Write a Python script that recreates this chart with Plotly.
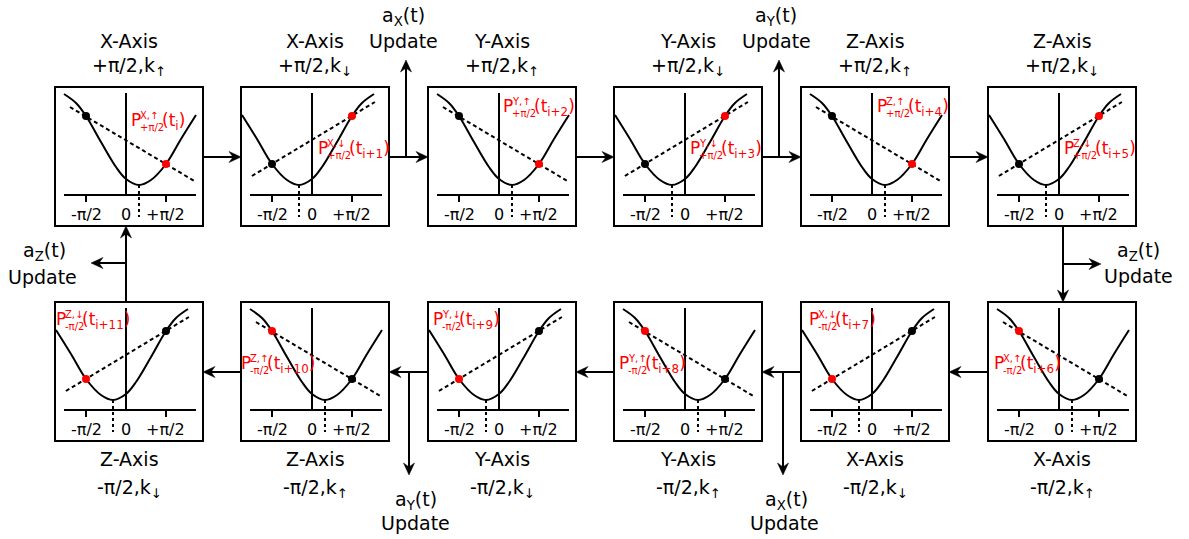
import math
import plotly.graph_objects as go

W, H = 1189, 539
FONT = "DejaVu Sans"

# ---------------- data ----------------
# curve shape with minimum right of 0 (k-up) and left of 0 (k-down), x in radians
curve_x_up = [-2.435, -1.963, -1.571, -0.982, -0.393, 0.0, 0.51, 0.982, 1.571, 2.16, 2.749]
curve_y_up = [101, 92, 79, 53, 28, 16, 10, 15, 31, 56, 80]
curve_x_down = [-2.749, -2.16, -1.571, -0.982, -0.51, 0.0, 0.393, 0.982, 1.571, 1.963, 2.435]
curve_y_down = [80, 56, 31, 15, 10, 16, 28, 53, 79, 92, 101]
dash_x_up = [-2.2, 2.75]
dash_y_up = [88, 13]
dash_x_down = [-2.36, 2.47]
dash_y_down = [19, 93]
min_x_up = 0.51
min_x_down = -0.51
min_y = 10
point_x = [-1.5708, 1.5708]
point_y_up = [79, 31]
point_y_down = [31, 79]
tick_x = [-1.5708, 0.0, 1.5708]
tick_text = ["-π/2", "0", "+π/2"]
axis_x = [-2.435, 2.749]
axis_top = 102

# panels: (axis, angle, k-arrow, time index)
top_panels = [("X", "+π/2", "↑", "i"), ("X", "+π/2", "↓", "i+1"),
              ("Y", "+π/2", "↑", "i+2"), ("Y", "+π/2", "↓", "i+3"),
              ("Z", "+π/2", "↑", "i+4"), ("Z", "+π/2", "↓", "i+5")]
bottom_panels = [("Z", "-π/2", "↓", "i+11"), ("Z", "-π/2", "↑", "i+10"),
                 ("Y", "-π/2", "↓", "i+9"), ("Y", "-π/2", "↑", "i+8"),
                 ("X", "-π/2", "↓", "i+7"), ("X", "-π/2", "↑", "i+6")]

# ---------------- layout geometry (pixels) ----------------
panel_left = [55, 241, 428, 614, 801, 988]
panel_w = 148
panel_h = 139
top_row_y = 87
bottom_row_y = 302
x_range = [-2.788, 3.024]
y_range = [-31, 108]
top_label_off = [(75, 33), (76, 61), (74, 19), (75, 61), (75, 19), (75, 61)]
bottom_label_off = [(0, 17), (-1, 61), (4, 17), (4, 61), (7, 17), (5, 61)]


def px(x):
    return x / W


def py(y):
    return 1 - y / H


fig = go.Figure()
layout = dict(width=W, height=H, margin=dict(l=0, r=0, t=0, b=0), autosize=False,
              paper_bgcolor="white", plot_bgcolor="rgba(0,0,0,0)", showlegend=False,
              hovermode=False)
shapes = []
annotations = []


def add_text(x, y, text, size, color="black", xanchor="center"):
    annotations.append(dict(x=px(x), y=py(y), xref="paper", yref="paper", text=text,
                            showarrow=False, xanchor=xanchor, yanchor="middle",
                            font=dict(family=FONT, size=size, color=color)))


def add_arrow(x0, y0, x1, y1, head_len=12, head_half=5.5, notch=8):
    dxp, dyp = x1 - x0, y1 - y0
    d = math.hypot(dxp, dyp)
    ux, uy = dxp / d, dyp / d
    nx, ny = -uy, ux
    shapes.append(dict(type="line", xref="paper", yref="paper",
                       x0=px(x0), y0=py(y0), x1=px(x1 - ux * notch), y1=py(y1 - uy * notch),
                       line=dict(color="black", width=2)))
    bx, by_ = x1 - ux * head_len, y1 - uy * head_len
    pts = [(x1, y1),
           (bx + nx * head_half, by_ + ny * head_half),
           (x1 - ux * notch, y1 - uy * notch),
           (bx - nx * head_half, by_ - ny * head_half)]
    path = "M " + " L ".join(f"{px(a):.6f},{py(b):.6f}" for a, b in pts) + " Z"
    shapes.append(dict(type="path", xref="paper", yref="paper", path=path,
                       fillcolor="black", line=dict(color="black", width=0.5)))


def add_panel(n, left, top, info, label_off, red_right, row_top):
    axis, angle, kar, tidx = info
    xa = "x" if n == 1 else f"x{n}"
    ya = "y" if n == 1 else f"y{n}"
    xk = "xaxis" if n == 1 else f"xaxis{n}"
    yk = "yaxis" if n == 1 else f"yaxis{n}"
    layout[xk] = dict(domain=[px(left), px(left + panel_w)], range=x_range, visible=False,
                      anchor=ya, fixedrange=True)
    layout[yk] = dict(domain=[py(top + panel_h), py(top)], range=y_range, visible=False,
                      anchor=xa, fixedrange=True)
    up = kar == "↑"
    cx, cy = (curve_x_up, curve_y_up) if up else (curve_x_down, curve_y_down)
    dx, dy = (dash_x_up, dash_y_up) if up else (dash_x_down, dash_y_down)
    mx = min_x_up if up else min_x_down
    pyv = point_y_up if up else point_y_down
    # box
    shapes.append(dict(type="rect", xref=f"{xa} domain", yref=f"{ya} domain", x0=0, x1=1, y0=0, y1=1,
                       line=dict(color="black", width=2)))
    # axes
    shapes.append(dict(type="line", xref=xa, yref=ya, x0=axis_x[0], x1=axis_x[1], y0=0, y1=0,
                       line=dict(color="black", width=2)))
    shapes.append(dict(type="line", xref=xa, yref=ya, x0=0, x1=0, y0=0, y1=axis_top,
                       line=dict(color="black", width=2)))
    for tx in (tick_x[0], tick_x[2]):
        shapes.append(dict(type="line", xref=xa, yref=ya, x0=tx, x1=tx, y0=0, y1=-7,
                           line=dict(color="black", width=2)))
    shapes.append(dict(type="line", xref=xa, yref=ya, x0=mx, x1=mx, y0=min_y, y1=-22,
                       line=dict(color="black", width=2, dash="3px,3px")))
    for tx, tt in zip(tick_x, tick_text):
        annotations.append(dict(x=tx, y=-19, xref=xa, yref=ya, text=tt, showarrow=False,
                                xanchor="center", yanchor="middle",
                                font=dict(family=FONT, size=16, color="black")))
    fig.add_trace(go.Scatter(x=dx, y=dy, mode="lines", xaxis=xa, yaxis=ya,
                             line=dict(color="black", width=2, dash="4px,3px")))
    fig.add_trace(go.Scatter(x=cx, y=cy, mode="lines", xaxis=xa, yaxis=ya,
                             line=dict(color="black", width=2, shape="spline", smoothing=1.0)))
    colors = ["black", "red"] if red_right else ["red", "black"]
    fig.add_trace(go.Scatter(x=point_x, y=pyv, mode="markers", xaxis=xa, yaxis=ya,
                             marker=dict(color=colors, size=8, line=dict(width=0))))
    # titles
    cxp = left + panel_w / 2
    if row_top:
        add_text(cxp, 41, f"{axis}-Axis", 19)
        add_text(cxp, 66, f"{angle},k<sub>{kar}</sub>", 19)
    else:
        add_text(cxp, 459, f"{axis}-Axis", 19)
        add_text(cxp, 488, f"{angle},k<sub>{kar}</sub>", 19)
    # red label
    lx = left + label_off[0]
    ly = top + label_off[1]
    add_text(lx - 1, ly, "P", 17, "red", "left")
    add_text(lx + 8, ly - 5, f"{axis},{kar}", 10, "red", "left")
    add_text(lx + 8, ly + 7, angle, 10, "red", "left")
    sub_w = 31 if row_top else 26
    add_text(lx + sub_w - 1, ly + 1, f"(t<sub>{tidx}</sub>)", 17, "red", "left")


n = 1
for i, info in enumerate(top_panels):
    add_panel(n, panel_left[i], top_row_y, info, top_label_off[i], True, True)
    n += 1
for i, info in enumerate(bottom_panels):
    add_panel(n, panel_left[i], bottom_row_y, info, bottom_label_off[i], False, False)
    n += 1

# flow arrows
ty = top_row_y + panel_h / 2 + 0.5
by = bottom_row_y + panel_h / 2 + 0.5
for i in range(5):
    add_arrow(panel_left[i] + panel_w, ty, panel_left[i + 1], ty)
    add_arrow(panel_left[i + 1], by, panel_left[i] + panel_w, by)
# update arrows
add_arrow(406, ty, 406, 60)
add_arrow(779, ty, 779, 60)
add_arrow(409, by, 409, 475)
add_arrow(783, by, 783, 475)
add_arrow(1063, top_row_y + panel_h, 1063, bottom_row_y)
add_arrow(1063, 264, 1101, 264)
add_arrow(126, bottom_row_y, 126, top_row_y + panel_h)
add_arrow(126, 263, 91, 263)

# update labels
add_text(403, 17, "a<sub>X</sub>(t)", 19)
add_text(403, 41, "Update", 19)
add_text(776, 17, "a<sub>Y</sub>(t)", 19)
add_text(776, 41, "Update", 19)
add_text(416, 500, "a<sub>Y</sub>(t)", 19)
add_text(415, 523, "Update", 19)
add_text(786, 500, "a<sub>X</sub>(t)", 19)
add_text(784, 523, "Update", 19)
add_text(1138, 251, "a<sub>Z</sub>(t)", 19)
add_text(1138, 276, "Update", 19)
add_text(45, 252, "a<sub>Z</sub>(t)", 19)
add_text(42, 277, "Update", 19)

layout["shapes"] = shapes
layout["annotations"] = annotations
fig.update_layout(**layout)
fig.write_html("out.html", config={"displayModeBar": False},
               post_script="document.body.style.margin='0';")
